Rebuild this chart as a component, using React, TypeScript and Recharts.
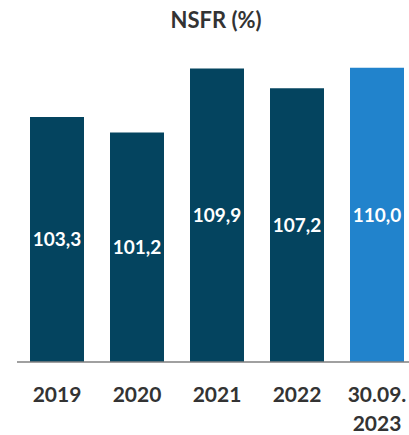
import { Bar, BarChart, Cell, LabelList, XAxis, YAxis } from 'recharts';

const categories = ['2019', '2020', '2021', '2022', '30.09. 2023'];
const nsfr = [103.3, 101.2, 109.9, 107.2, 110.0];
const barColors = ['#04445F', '#04445F', '#04445F', '#04445F', '#2183CC'];

const data = categories.map((category, i) => ({ category, nsfr: nsfr[i] }));

const FONT = 'Lato, "Open Sans", sans-serif';
const TEXT = '#333333';

const formatValue = (v: unknown) => Number(v).toFixed(1).replace('.', ',');

const CategoryTick = (props: any) => {
  const { x, y, payload } = props;
  const lines = String(payload.value).split(' ');
  return (
    <g transform={`translate(${x},${y})`}>
      <text textAnchor="middle" fill={TEXT} fontFamily={FONT} fontWeight={700} fontSize={21}>
        {lines.map((line, i) => (
          <tspan key={line} x={0} dy={i === 0 ? 32 : 29}>
            {line}
          </tspan>
        ))}
      </text>
    </g>
  );
};

const App = () => (
  <div style={{ position: 'fixed', top: 0, left: 0, width: 409, height: 435, overflow: 'hidden', background: '#fff' }}>
    <div
      style={{
        position: 'absolute',
        top: 6,
        left: 0,
        width: 432,
        textAlign: 'center',
        fontFamily: FONT,
        fontWeight: 700,
        fontSize: 22,
        color: TEXT,
      }}
    >
      NSFR (%)
    </div>
    <BarChart width={425} height={435} data={data} margin={{ top: 31, right: 8, bottom: 0, left: 17 }}>
      <XAxis
        dataKey="category"
        height={73}
        tickLine={false}
        axisLine={{ stroke: '#808080', strokeWidth: 1.5 }}
        tick={<CategoryTick />}
        interval={0}
      />
      <YAxis hide domain={[70, 115]} allowDataOverflow />
      <Bar dataKey="nsfr" barSize={54} isAnimationActive={false}>
        {data.map((d, i) => (
          <Cell key={d.category} fill={barColors[i]} />
        ))}
        <LabelList
          dataKey="nsfr"
          position="center"
          formatter={formatValue}
          fill="#ffffff"
          fontFamily={FONT}
          fontWeight={700}
          fontSize={19}
        />
      </Bar>
    </BarChart>
  </div>
);

export default App;
